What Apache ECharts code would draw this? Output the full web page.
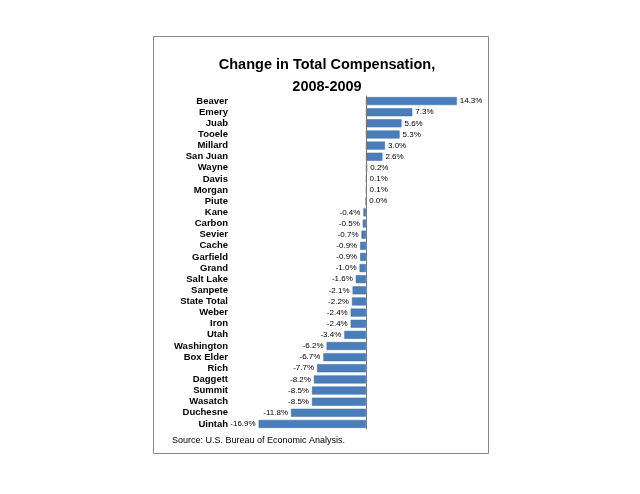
<!DOCTYPE html>
<html><head><meta charset="utf-8">
<script src="https://cdn.jsdelivr.net/npm/echarts@6/dist/echarts.min.js"></script>
<style>html,body{margin:0;background:#fff}#c{width:640px;height:494px}</style>
</head><body><div id="c"></div>
<script>
var counties=["Beaver","Emery","Juab","Tooele","Millard","San Juan","Wayne","Davis","Morgan","Piute","Kane","Carbon","Sevier","Cache","Garfield","Grand","Salt Lake","Sanpete","State Total","Weber","Iron","Utah","Washington","Box Elder","Rich","Daggett","Summit","Wasatch","Duchesne","Uintah"];
var changes=[14.3,7.3,5.6,5.3,3.0,2.6,0.2,0.1,0.1,0.0,-0.4,-0.5,-0.7,-0.9,-0.9,-1.0,-1.6,-2.1,-2.2,-2.4,-2.4,-3.4,-6.2,-6.7,-7.7,-8.2,-8.5,-8.5,-11.8,-16.9];
var chart=echarts.init(document.getElementById('c'));
chart.setOption({
 animation:false,
 title:{text:'Change in Total Compensation,\n2008-2009',left:322,textAlign:'center',top:49,
  textStyle:{fontFamily:'Liberation Sans',fontSize:14.5,fontWeight:'bold',color:'#000',lineHeight:22}},
 graphic:[{type:'rect',shape:{x:153.5,y:36.5,width:335,height:417},style:{fill:'none',stroke:'#888',lineWidth:1}},
  {type:'text',left:172,top:436,style:{text:'Source: U.S. Bureau of Economic Analysis.',font:'9px Liberation Sans',fill:'#000'}}],
 grid:{left:258,right:182,top:95.5,bottom:64.5},
 xAxis:{type:'value',min:-17,max:14.5,show:false},
 yAxis:{type:'category',data:counties,inverse:true,axisLine:{show:false},axisTick:{show:false},
  axisLabel:{interval:0,margin:30,fontFamily:'Liberation Sans',fontWeight:'bold',fontSize:9.5,color:'#000'}},
 series:[{type:'bar',barWidth:'72%',
  data:changes.map(function(v){return {value:v,label:{position:v<0?'left':'right'}};}),
  itemStyle:{color:'#4a7ebb',borderColor:'#3b6aa0',borderWidth:0.5},
  label:{show:true,fontFamily:'Liberation Sans',fontSize:8,color:'#000',distance:3,
   formatter:function(p){return p.value.toFixed(1)+'%';}},
  markLine:{silent:true,symbol:'none',label:{show:false},lineStyle:{color:'#777',type:'solid',width:1},data:[{xAxis:0}]}
 }]
});
</script></body></html>
